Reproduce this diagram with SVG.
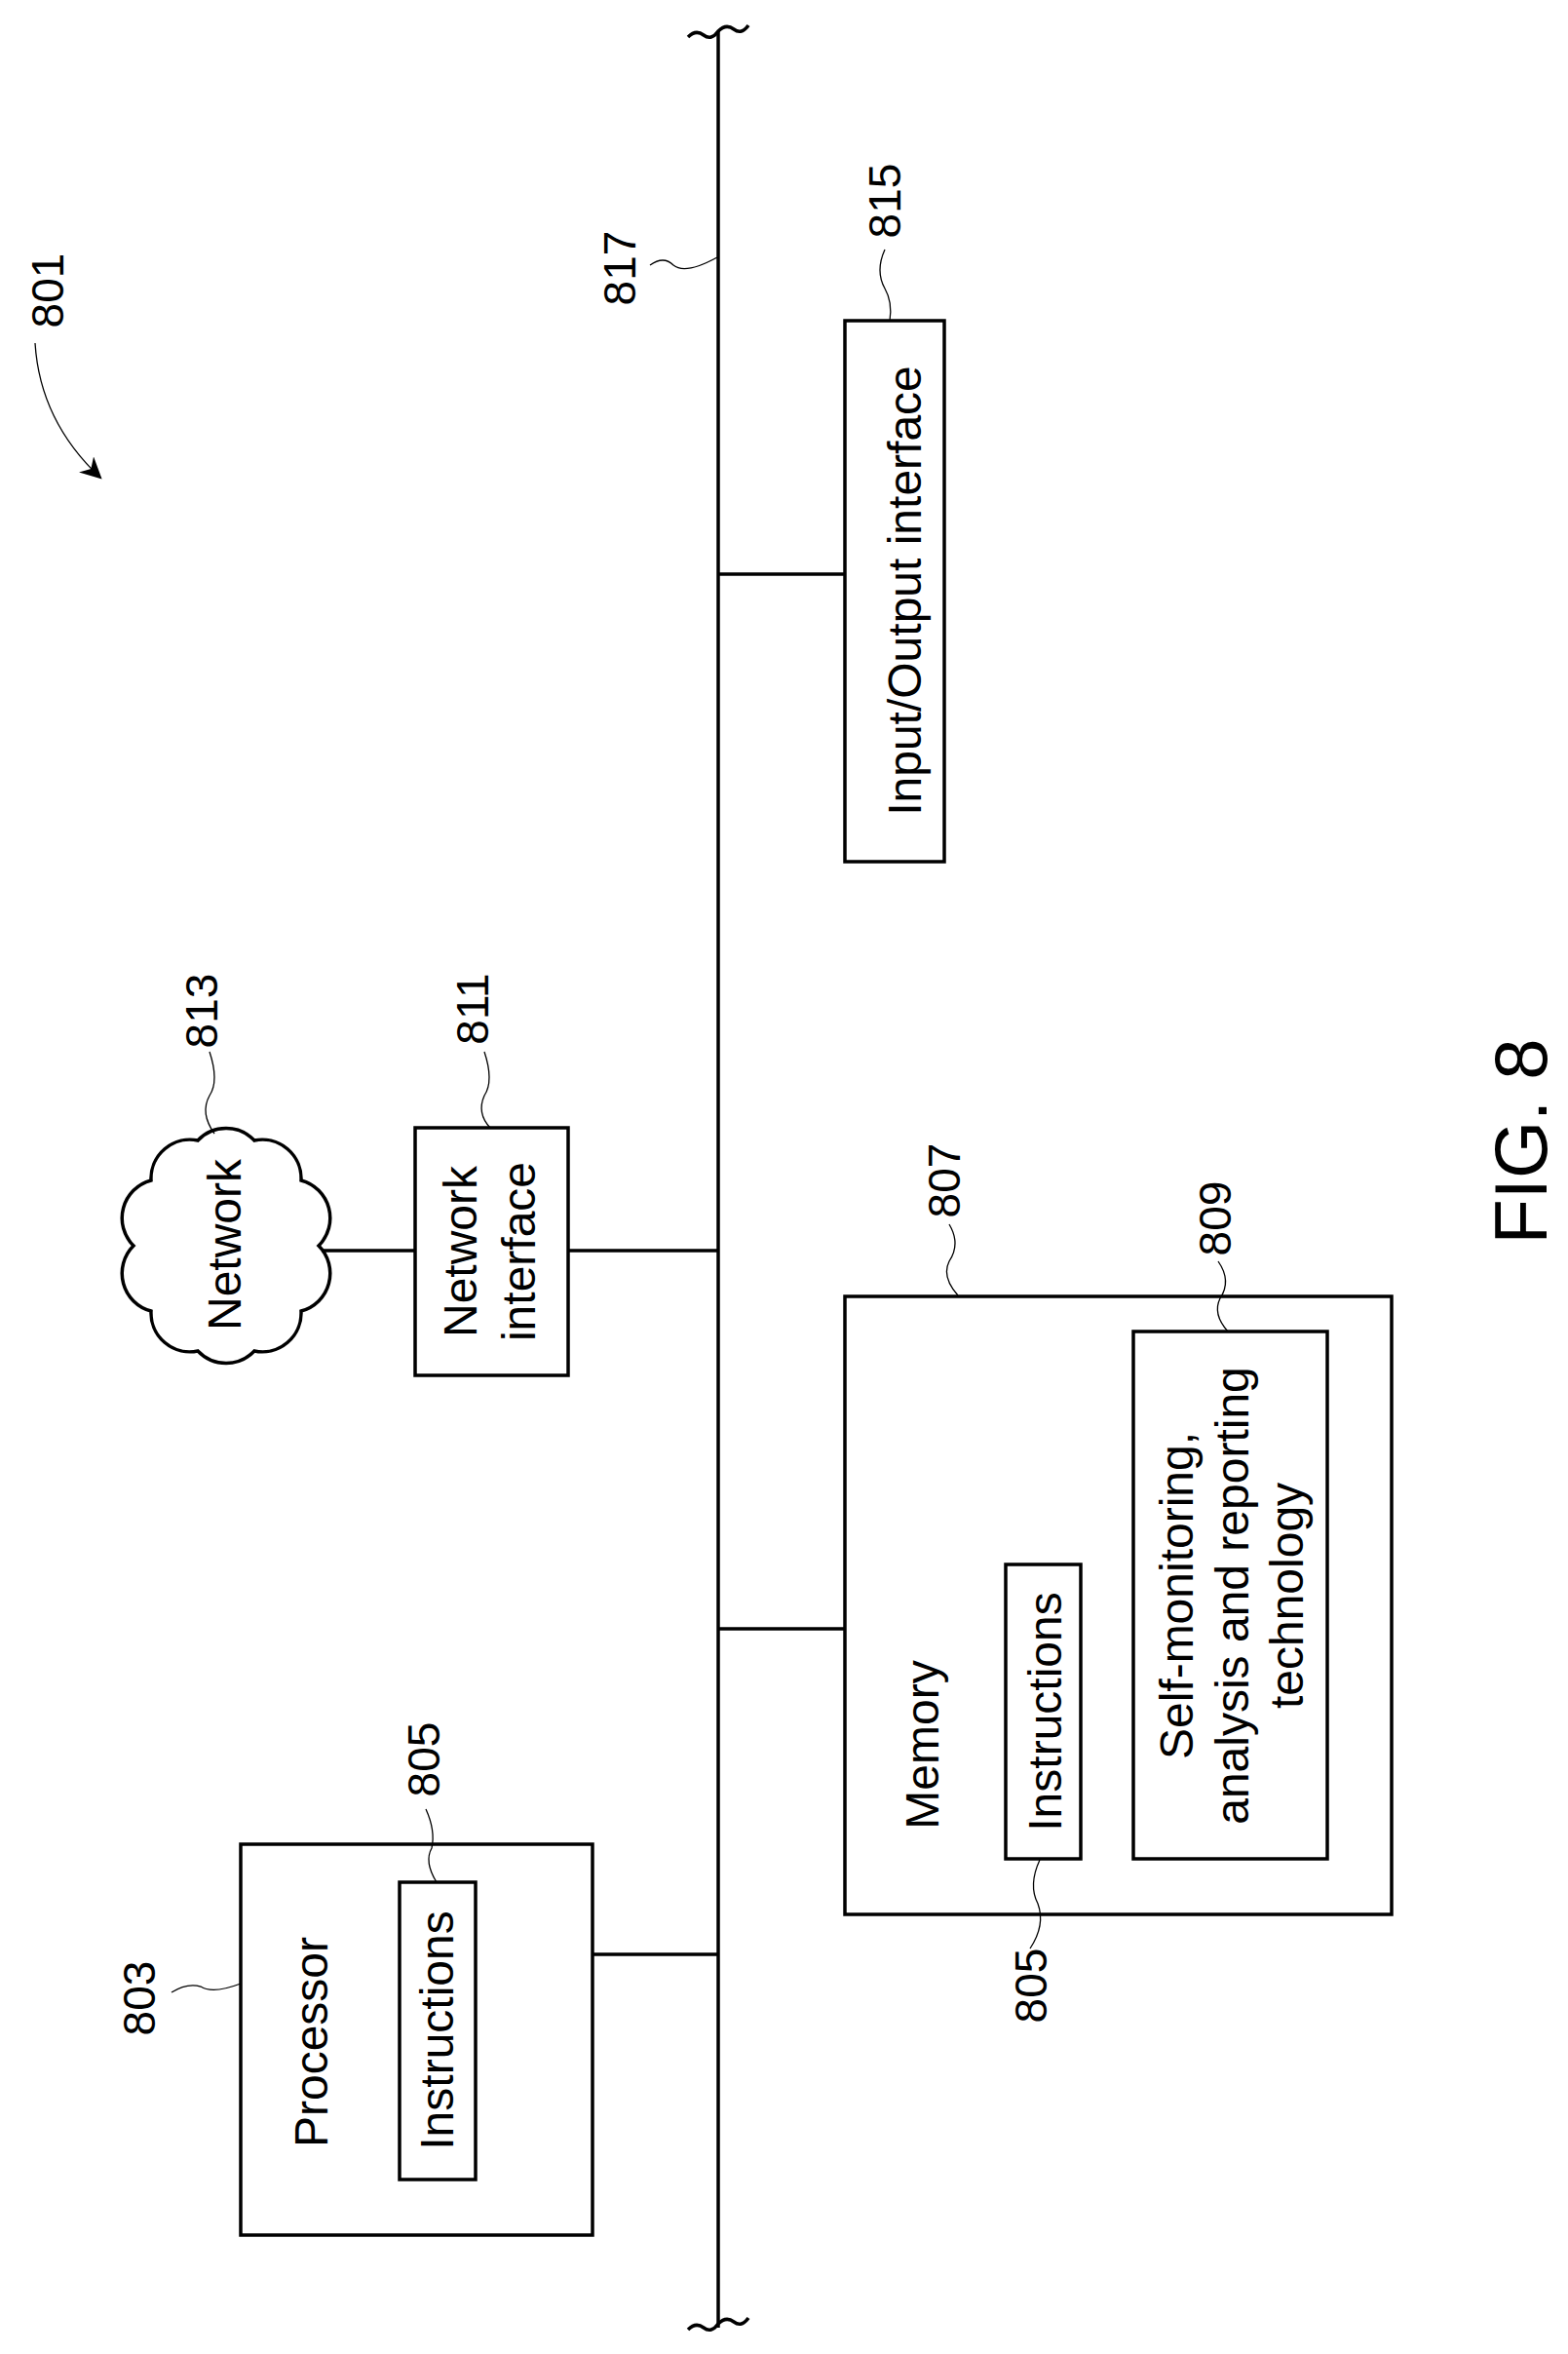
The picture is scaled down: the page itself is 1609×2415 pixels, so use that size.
<svg xmlns="http://www.w3.org/2000/svg" width="1609" height="2415" viewBox="0 0 1609 2415">
<style>
.box{fill:none;stroke:#000;stroke-width:3.5}
.ln{fill:none;stroke:#000;stroke-width:3.5}
.ld{fill:none;stroke:#000;stroke-width:1.3}
.t{font-family:"Liberation Sans",Arial,sans-serif;font-size:48px;fill:#000;text-anchor:middle}
.n{font-family:"Liberation Sans",Arial,sans-serif;font-size:46px;fill:#000;text-anchor:middle}
</style>
<defs>
<marker id="ah" viewBox="0 0 10 10" refX="9" refY="5" markerWidth="22" markerHeight="22" markerUnits="userSpaceOnUse" orient="auto"><path d="M0,0 L10,5 L0,10 L3,5 z" fill="#000"/></marker>
</defs>
<rect width="1609" height="2415" fill="#fff"/>
<g id="connectors">
<path class="ln" d="M737,32 V2388"/>
<path class="ln" d="M706,38 q8,-8 16,-2 q8,6 15,-4 q8,-8 16,-2 q8,6 15,-4"/>
<path class="ln" d="M706,2390 q8,-8 16,-2 q8,6 15,-4 q8,-8 16,-2 q8,6 15,-4"/>
<path class="ln" d="M737,589 H867"/>
<path class="ln" d="M330,1283 H426"/>
<path class="ln" d="M583,1283 H737"/>
<path class="ln" d="M737,1671 H867"/>
<path class="ln" d="M608,2005 H737"/>
<path class="ld" d="M667,272 q14,-10 24,0 q12,10 45,-8"/>
<path class="ld" d="M908,256 q-10,22 0,40 q8,14 5,33"/>
<path class="ld" d="M215,1079 q10,30 0,45 q-10,18 5,39"/>
<path class="ld" d="M497,1079 q10,30 0,45 q-8,18 6,33"/>
<path class="ld" d="M974,1256 q12,20 0,38 q-8,16 9,35"/>
<path class="ld" d="M1250,1294 q14,20 2,38 q-8,16 8,34"/>
<path class="ld" d="M1067,1908 q-12,26 -2,45 q8,22 -8,46"/>
<path class="ld" d="M176,2044 q16,-10 30,-6 q12,8 41,-3"/>
<path class="ld" d="M437,1856 q10,22 6,40 q-8,14 5,35"/>
<path class="ld" d="M36,352 q5,80 67,138" marker-end="url(#ah)"/>
</g>
<g id="n801"><text class="n" transform="translate(49,298) rotate(-90)" y="16">801</text></g>
<g id="n817"><text class="n" transform="translate(636,275) rotate(-90)" y="16">817</text></g>
<g id="n815">
<text class="n" transform="translate(908,206) rotate(-90)" y="16">815</text>
<rect class="box" x="867" y="329" width="102" height="555"/>
<text class="t" transform="translate(928,606) rotate(-90)" y="17">Input/Output interface</text>
</g>
<g id="n813">
<text class="n" transform="translate(207,1037) rotate(-90)" y="16">813</text>
<path class="box" d="M327,1278 A40,40 0 0 1 309,1345 A40,40 0 0 1 261,1386 A40,40 0 0 1 203,1386 A40,40 0 0 1 155,1345 A40,40 0 0 1 137,1278 A40,40 0 0 1 155,1211 A40,40 0 0 1 203,1170 A40,40 0 0 1 261,1170 A40,40 0 0 1 309,1211 A40,40 0 0 1 327,1278 Z"/>
<text class="t" transform="translate(230,1277) rotate(-90)" y="17">Network</text>
</g>
<g id="n811">
<text class="n" transform="translate(485,1035) rotate(-90)" y="16">811</text>
<rect class="box" x="426" y="1157" width="157" height="254"/>
<text class="t" transform="translate(472,1284) rotate(-90)" y="17">Network</text>
<text class="t" transform="translate(532,1284) rotate(-90)" y="17">interface</text>
</g>
<g id="n807">
<text class="n" transform="translate(969,1211) rotate(-90)" y="16">807</text>
<rect class="box" x="867" y="1330" width="561" height="634"/>
<text class="t" transform="translate(946,1790) rotate(-90)" y="17">Memory</text>
</g>
<g id="n805m">
<rect class="box" x="1032" y="1605" width="77" height="302"/>
<text class="t" transform="translate(1072,1756) rotate(-90)" y="17">Instructions</text>
<text class="n" transform="translate(1058,2037) rotate(-90)" y="16">805</text>
</g>
<g id="n809">
<text class="n" transform="translate(1247,1250) rotate(-90)" y="16">809</text>
<rect class="box" x="1163" y="1366" width="199" height="541"/>
<text class="t" transform="translate(1207,1637) rotate(-90)" y="17">Self-monitoring,</text>
<text class="t" transform="translate(1264,1637) rotate(-90)" y="17">analysis and reporting</text>
<text class="t" transform="translate(1320,1637) rotate(-90)" y="17">technology</text>
</g>
<g id="n803">
<text class="n" transform="translate(143,2050) rotate(-90)" y="16">803</text>
<rect class="box" x="247" y="1892" width="361" height="401"/>
<text class="t" transform="translate(319,2095) rotate(-90)" y="17">Processor</text>
</g>
<g id="n805p">
<text class="n" transform="translate(435,1805) rotate(-90)" y="16">805</text>
<rect class="box" x="410" y="1931" width="78" height="305"/>
<text class="t" transform="translate(448,2083) rotate(-90)" y="17">Instructions</text>
</g>
<g id="fig"><text class="t" style="font-size:76px" transform="translate(1560,1171) rotate(-90)" y="27">FIG. 8</text></g>
</svg>
